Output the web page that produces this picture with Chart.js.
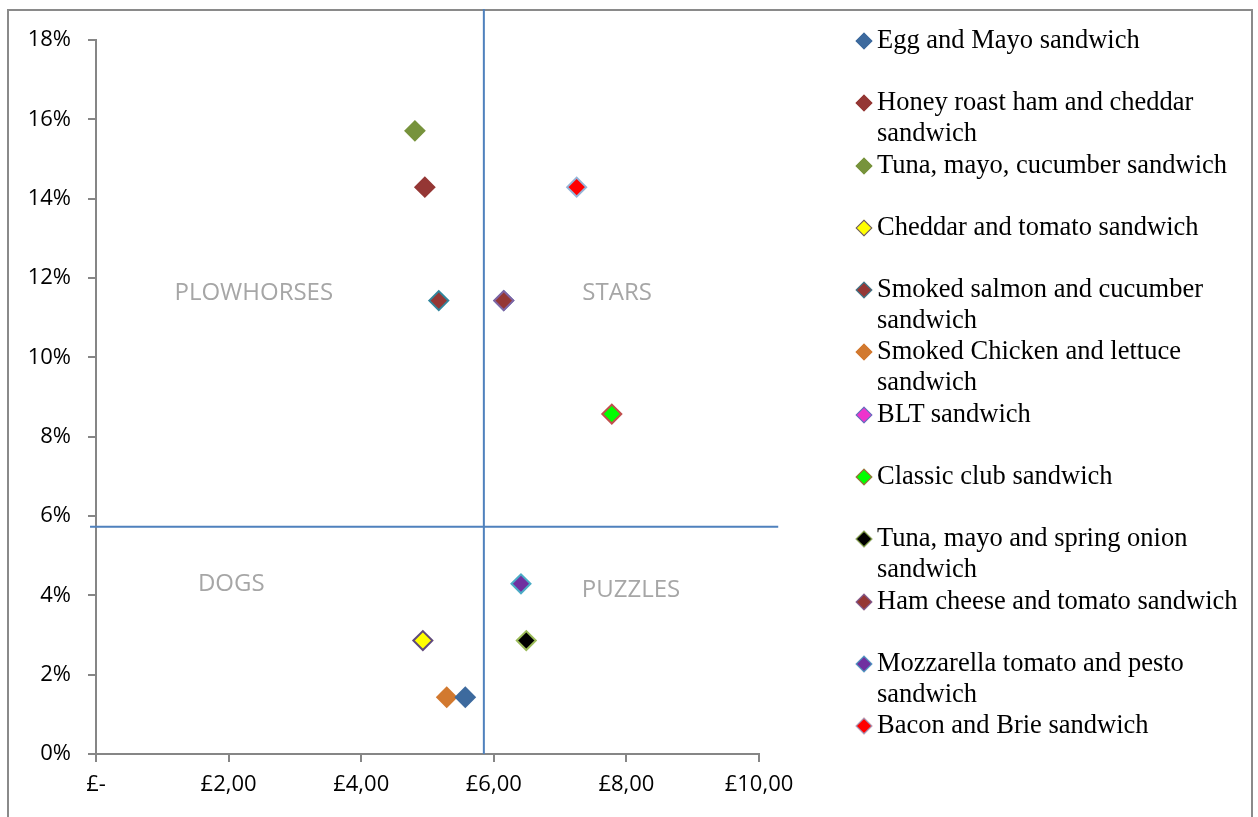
<!DOCTYPE html>
<html>
<head>
<meta charset="utf-8">
<script src="https://cdn.jsdelivr.net/npm/chart.js@4"></script>
<style>
  html, body { margin: 0; padding: 0; background: #fff; overflow: hidden; }
  #wrap { position: relative; width: 1258px; height: 817px; }
  #frame { position: absolute; left: 7px; top: 9px; width: 1242px; height: 830px; border: 2px solid #8a8a8a; border-bottom: none; }
  canvas { position: absolute; left: 0; top: 0; }
  #legend { position: absolute; left: 853px; top: 24px; font-family: "Liberation Serif", "Times New Roman", serif; font-size: 26.5px; line-height: 31px; color: #000; }
  .item { position: relative; height: 62.3px; padding-left: 24px; width: 370px; }
  .mk { position: absolute; left: 5px; top: 11px; width: 12px; height: 12px; transform: rotate(45deg); box-sizing: border-box; border: 1.5px solid; }
</style>
</head>
<body>
<div id="wrap">
  <div id="frame"></div>
  <canvas id="menuChart" width="1258" height="817"></canvas>
  <div id="legend"></div>
</div>
<script>
// menu engineering data: price (£) vs share of sales (%)
const sandwiches = [
  'Egg and Mayo sandwich',
  'Honey roast ham and cheddar sandwich',
  'Tuna, mayo, cucumber sandwich',
  'Cheddar and tomato sandwich',
  'Smoked salmon and cucumber sandwich',
  'Smoked Chicken and lettuce sandwich',
  'BLT sandwich',
  'Classic club sandwich',
  'Tuna, mayo and spring onion sandwich',
  'Ham cheese and tomato sandwich',
  'Mozzarella tomato and pesto sandwich',
  'Bacon and Brie sandwich'
];
const prices = [5.57, 4.96, 4.81, 4.93, 5.17, 5.29, 6.15, 7.78, 6.49, 6.15, 6.41, 7.25];
const popularity = [1.43, 14.29, 15.71, 2.86, 11.43, 1.43, 11.43, 8.57, 2.86, 11.43, 4.29, 14.29];

const fillColors = ['#3d6a9e', '#953735', '#77933c', '#ffff00', '#953735', '#d2792f',
  '#ee33cc', '#00ff00', '#000000', '#953735', '#7030a0', '#ff0000'];
const borderColors = ['#3d6a9e', '#953735', '#77933c', '#604a7b', '#31859c', '#d2792f',
  '#4f81bd', '#c0504d', '#9bbb59', '#8064a2', '#4bacc6', '#95b3d7'];

const xTickLabels = ['£-', '£2,00', '£4,00', '£6,00', '£8,00', '£10,00'];
const yTickLabels = ['0%', '2%', '4%', '6%', '8%', '10%', '12%', '14%', '16%', '18%'];

// quadrant split lines
const avgPrice = 5.85;
const popCutoff = 5.73;
const quadrants = [
  { text: 'PLOWHORSES', x: 2.38, y: 11.62 },
  { text: 'STARS', x: 7.86, y: 11.62 },
  { text: 'DOGS', x: 2.04, y: 4.29 },
  { text: 'PUZZLES', x: 8.07, y: 4.13 }
];

const quadrantPlugin = {
  id: 'quadrants',
  beforeDatasetsDraw(chart) {
    const { ctx, scales: { x, y } } = chart;
    ctx.save();
    ctx.strokeStyle = '#4f81bd';
    ctx.lineWidth = 2;
    ctx.beginPath();
    ctx.moveTo(x.getPixelForValue(avgPrice), y.getPixelForValue(0));
    ctx.lineTo(x.getPixelForValue(avgPrice), y.getPixelForValue(18.78));
    ctx.moveTo(x.getPixelForValue(-0.09), y.getPixelForValue(popCutoff));
    ctx.lineTo(x.getPixelForValue(10.29), y.getPixelForValue(popCutoff));
    ctx.stroke();

    ctx.fillStyle = '#a6a6a6';
    ctx.font = '24px "Open Sans"';
    ctx.textAlign = 'center';
    ctx.textBaseline = 'middle';
    quadrants.forEach(q => {
      ctx.fillText(q.text, x.getPixelForValue(q.x), y.getPixelForValue(q.y));
    });
    ctx.restore();
  }
};

const datasets = sandwiches.map((name, i) => ({
  label: name,
  data: [{ x: prices[i], y: popularity[i] }],
  pointStyle: 'rectRot',
  pointRadius: 9.5,
  pointBorderWidth: 2,
  backgroundColor: fillColors[i],
  borderColor: borderColors[i],
  order: name === 'BLT sandwich' ? 1 : 0 // hidden under Ham cheese and tomato
}));

const axisFont = { family: 'Open Sans', size: 22 };

const ctx = document.getElementById('menuChart').getContext('2d');
const menuChart = new Chart(ctx, {
  type: 'scatter',
  data: { datasets },
  options: {
    responsive: false,
    animation: false,
    layout: { padding: { left: 8, right: 499, top: 40, bottom: 0 } },
    plugins: { legend: { display: false }, tooltip: { enabled: false } },
    scales: {
      x: {
        type: 'linear', min: 0, max: 10,
        ticks: { stepSize: 2, padding: 10, color: '#000', font: axisFont, callback: (v, i) => xTickLabels[i] },
        grid: { drawOnChartArea: false, tickLength: 8, color: '#868686', lineWidth: 2 },
        border: { color: '#868686', width: 2 },
        afterFit: s => { s.height = 63; }
      },
      y: {
        min: 0, max: 18,
        ticks: { stepSize: 2, padding: 17, color: '#000', font: axisFont, callback: (v, i) => yTickLabels[i] },
        grid: { drawOnChartArea: false, tickLength: 8, color: '#868686', lineWidth: 2 },
        border: { color: '#868686', width: 2 },
        afterFit: s => { s.width = 88; }
      }
    }
  },
  plugins: [quadrantPlugin]
});

// legend (wrapped like the original)
const legend = document.getElementById('legend');
sandwiches.forEach((name, i) => {
  const item = document.createElement('div');
  item.className = 'item';
  const mk = document.createElement('span');
  mk.className = 'mk';
  mk.style.background = fillColors[i];
  mk.style.borderColor = borderColors[i];
  item.appendChild(mk);
  item.appendChild(document.createTextNode(name));
  legend.appendChild(item);
});
</script>
</body>
</html>
